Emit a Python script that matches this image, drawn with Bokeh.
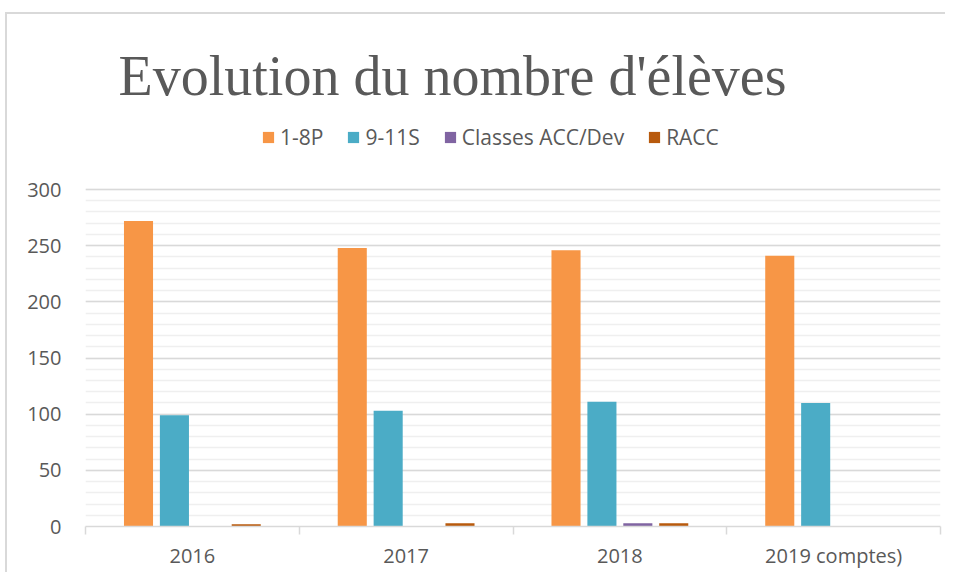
from bokeh.plotting import figure
from bokeh.models import (ColumnDataSource, Label, Legend, LegendItem, FixedTicker, Range1d)
from bokeh.transform import dodge
from bokeh.embed import file_html
from bokeh.resources import INLINE

# ---- data ----
categories = ["2016", "2017", "2018", "2019 comptes)"]
series_names = ["1-8P", "9-11S", "Classes ACC/Dev", "RACC"]
v_1_8P = [272, 248, 246, 241]
v_9_11S = [99, 103, 111, 110]
v_acc_dev = [0.3, 0.3, 3, 0]
v_racc = [2, 3, 3, 0.3]
y_ticks = [0, 50, 100, 150, 200, 250, 300]
y_minor_ticks = list(range(0, 301, 10))

colors = ["#F79646", "#4BACC6", "#8064A2", "#B85A0D"]
series_values = [v_1_8P, v_9_11S, v_acc_dev, v_racc]

FONT = "Open Sans"
TXT = "#595959"

# frame spans the whole top of the chart so that title/legend live inside it
FRAME_H = 526          # px, frame height
AXIS_300_Y = 189       # px from top where 300 sits
y_end = 300 * FRAME_H / (FRAME_H - AXIS_300_Y)

p = figure(width=945, height=572, output_backend="svg", toolbar_location=None,
           x_range=Range1d(0, len(categories)), y_range=Range1d(0, y_end),
           min_border_left=85, min_border_right=5, min_border_top=0,
           min_border_bottom=46, tools="")
p.border_fill_color = None
p.background_fill_color = None
p.outline_line_color = None
p.styles = {"box-shadow": "inset 5px 12px 0 0 #ffffff, inset 7px 14px 0 0 #d9d9d9"}

centers = [i + 0.5 for i in range(len(categories))]
step = 0.168
bw = 0.136
items = []
for k, (name, vals, col) in enumerate(zip(series_names, series_values, colors)):
    src = ColumnDataSource(dict(x=centers, top=vals))
    r = p.vbar(x=dodge("x", (k - 1.5) * step), top="top", bottom=0, width=bw,
               source=src, fill_color=col, line_color=None)
    items.append(LegendItem(label=name, renderers=[r]))

# y axis
p.yaxis.ticker = FixedTicker(ticks=y_ticks, minor_ticks=y_minor_ticks)
p.yaxis.axis_line_color = None
p.yaxis.major_tick_line_color = None
p.yaxis.minor_tick_line_color = None
p.yaxis.major_label_text_font = FONT
p.yaxis.major_label_text_font_size = "20px"
p.yaxis.major_label_text_color = TXT
p.yaxis.major_label_standoff = 18

# x axis
p.xaxis.ticker = FixedTicker(ticks=centers, minor_ticks=list(range(len(categories) + 1)))
p.xaxis.major_label_overrides = {c: lab for c, lab in zip(centers, categories)}
p.xaxis.axis_line_color = "#d9d9d9"
p.xaxis.axis_line_width = 1.5
p.xaxis.major_tick_line_color = None
p.xaxis.minor_tick_line_color = "#d9d9d9"
p.xaxis.minor_tick_line_width = 1.5
p.xaxis.minor_tick_in = 0
p.xaxis.minor_tick_out = 8
p.xaxis.major_label_text_font = FONT
p.xaxis.major_label_text_font_size = "20px"
p.xaxis.major_label_text_color = TXT
p.xaxis.major_label_standoff = 7

# grid
p.xgrid.grid_line_color = None
p.ygrid.grid_line_color = "#d9d9d9"
p.ygrid.grid_line_width = 1.5
p.ygrid.minor_grid_line_color = "#efefef"
p.ygrid.minor_grid_line_width = 1.5
p.ygrid.level = "underlay"

# title
title = Label(x=33, y=451, x_units="screen", y_units="screen",
              text="Evolution du nombre d'élèves", text_font="Liberation Serif",
              text_font_size="56px", text_color=TXT, text_baseline="alphabetic")
p.add_layout(title)

legend = Legend(items=items, orientation="horizontal", location=(176, 375),
                label_text_font=FONT, label_text_font_size="21px",
                label_text_color=TXT, glyph_width=14, glyph_height=14,
                label_standoff=5, spacing=23, padding=0, margin=0,
                border_line_color=None, background_fill_alpha=0,
                label_height=20)
p.add_layout(legend)

open("out.html", "w").write(file_html(p, INLINE))
